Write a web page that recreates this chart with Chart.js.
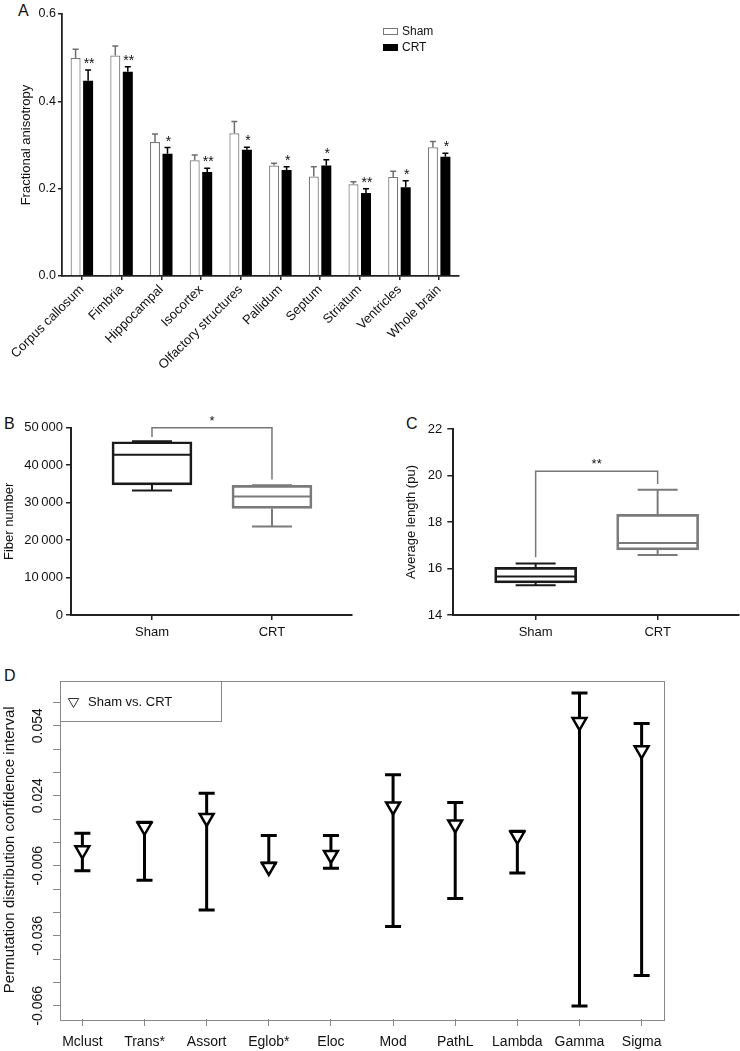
<!DOCTYPE html>
<html><head><meta charset="utf-8">
<script src="https://cdn.jsdelivr.net/npm/chart.js@4.4.1/dist/chart.umd.min.js"></script>
<style>
body{margin:0;background:#fff;width:740px;height:1051px;position:relative;overflow:hidden;font-family:"Liberation Sans",Arial,sans-serif;}
canvas{position:absolute;}
.lab{position:absolute;font-size:16px;color:#111;line-height:1;}
</style></head><body>
<div class="lab" style="left:18px;top:3px">A</div>
<div class="lab" style="left:4px;top:416px">B</div>
<div class="lab" style="left:406px;top:416px">C</div>
<div class="lab" style="left:4px;top:668px">D</div>
<script>
// ---------- Panel A data ----------
const regions = ['Corpus callosum','Fimbria','Hippocampal','Isocortex','Olfactory structures','Pallidum','Septum','Striatum','Ventricles','Whole brain'];
const shamFA  = [0.499,0.505,0.307,0.265,0.327,0.253,0.228,0.210,0.227,0.295];
const shamErr = [0.020,0.022,0.018,0.012,0.027,0.005,0.022,0.006,0.013,0.013];
const crtFA   = [0.447,0.468,0.280,0.238,0.289,0.243,0.253,0.190,0.203,0.273];
const crtErr  = [0.025,0.011,0.014,0.009,0.006,0.007,0.013,0.010,0.015,0.008];
const crtSig  = ['**','**','*','**','*','*','*','**','*','*'];
const faTicks = [0,0.2,0.4,0.6];
const seriesNames = ['Sham','CRT'];

// ---------- Panel B / C data ([min, q1, median, q3, max]) ----------
const groups = ['Sham','CRT'];
const fiberSham = [33250,34750,42750,46250,46400];
const fiberCRT  = [23650,28450,31650,34600,34650];
const fiberTicks = [0,10000,20000,30000,40000,50000];
const fiberTickLabels = ['0','10\u2009000','20\u2009000','30\u2009000','40\u2009000','50\u2009000'];
const fiberBracket = [47500,50000,36200];
const lenSham = [15.28,15.38,15.66,16.05,16.21];
const lenCRT  = [16.58,16.80,17.10,18.33,19.39];
const lenTicks = [14,16,18,20,22];
const lenBracket = [16.48,20.18,19.63];

// ---------- Panel D data ----------
const metrics   = ['Mclust','Trans*','Assort','Eglob*','Eloc','Mod','PathL','Lambda','Gamma','Sigma'];
const diffPoint = [0.0006,0.0107,0.0145,-0.0065,-0.0014,0.0194,0.0117,0.0068,0.0556,0.0435];
const ciLower   = [-0.0082,-0.0122,-0.0250,-0.0048,-0.0071,-0.0321,-0.0201,-0.0091,-0.0661,-0.0531];
const ciUpper   = [0.0079,0.0126,0.0251,0.0070,0.0070,0.0330,0.0211,0.0088,0.0680,0.0550];
const dTickValues = [0.064,0.054,0.044,0.034,0.024,0.014,0.004,-0.006,-0.016,-0.026,-0.036,-0.046,-0.056,-0.066];
const dTickLabels = ['0.054','0.024','-0.006','-0.036','-0.066'];

const FONT = '"Liberation Sans", Arial, sans-serif';
Chart.defaults.font.family = FONT;
Chart.defaults.color = '#111';
Chart.defaults.animation = false;

function makeCanvas(left, top, w, h){
  const c = document.createElement('canvas');
  c.width = w; c.height = h;
  c.style.left = left+'px'; c.style.top = top+'px';
  c.style.width = w+'px'; c.style.height = h+'px';
  document.body.appendChild(c);
  return c;
}
function seg(ctx, x1, y1, x2, y2){ ctx.moveTo(x1,y1); ctx.lineTo(x2,y2); }

// ================= Panel A =================
const pluginA = {
  id:'errA',
  afterDatasetsDraw(chart){
    const ctx = chart.ctx, y = chart.scales.y;
    const sets = [[shamFA, shamErr, '#6e6e6e'], [crtFA, crtErr, '#000']];
    sets.forEach(([vals, errs, col], di) => {
      const meta = chart.getDatasetMeta(di);
      meta.data.forEach((bar, i) => {
        const top = y.getPixelForValue(vals[i] + errs[i]);
        ctx.save();
        ctx.strokeStyle = col; ctx.lineWidth = 1.5;
        ctx.beginPath(); seg(ctx, bar.x, bar.y, bar.x, top); seg(ctx, bar.x-3, top, bar.x+3, top); ctx.stroke();
        if (di === 1) {
          ctx.fillStyle = '#111'; ctx.font = '14px ' + FONT;
          ctx.textAlign = 'center'; ctx.textBaseline = 'alphabetic';
          ctx.fillText(crtSig[i], bar.x + 1, top - 2);
        }
        ctx.restore();
      });
    });
    // legend
    ctx.save();
    ctx.strokeStyle = '#777'; ctx.lineWidth = 1;
    ctx.strokeRect(383.5, 28.5, 14, 6);
    ctx.fillStyle = '#000'; ctx.fillRect(383, 44, 15, 7);
    ctx.fillStyle = '#111'; ctx.font = '12px ' + FONT; ctx.textAlign = 'left'; ctx.textBaseline = 'middle';
    ctx.fillText(seriesNames[0], 402, 31.5);
    ctx.fillText(seriesNames[1], 402, 47.5);
    ctx.restore();
  }
};

new Chart(makeCanvas(0,0,470,380), {
  type:'bar',
  data:{ labels: regions, datasets:[
    {label:seriesNames[0], data:shamFA, backgroundColor:'#fff', borderColor:'#7a7a7a', borderWidth:1.2, borderSkipped:'start'},
    {label:seriesNames[1], data:crtFA, backgroundColor:'#000', borderColor:'#000', borderWidth:0}
  ]},
  options:{
    responsive:false, animation:false, devicePixelRatio:1,
    layout:{padding:{left:0,right:11,top:14,bottom:0}},
    datasets:{bar:{categoryPercentage:0.63, barPercentage:0.8}},
    plugins:{legend:{display:false}, tooltip:{enabled:false}},
    scales:{
      x:{ offset:true,
          grid:{offset:false, drawOnChartArea:false, tickLength:4, color:'#222', lineWidth:1.5},
          border:{color:'#222', width:1.8},
          ticks:{minRotation:45, maxRotation:45, autoSkip:false, padding:2, font:{size:13}, color:'#111'},
          afterFit:s=>{ s.height = 104; } },
      y:{ min:0, max:0.6,
          afterBuildTicks:s=>{ s.ticks = faTicks.map(v=>({value:v})); },
          ticks:{callback:v=>Number(v).toFixed(1), padding:2, font:{size:12.5}, color:'#111'},
          grid:{drawOnChartArea:false, tickLength:4, color:'#222', lineWidth:1.5},
          border:{color:'#222', width:1.8},
          title:{display:true, text:'Fractional anisotropy', font:{size:13}, color:'#111', padding:{top:19,bottom:0}},
          afterFit:s=>{ s.width = 62; } }
    }
  },
  plugins:[pluginA]
});

// ================= Panels B & C (box plots) =================
function boxChart(canvas, stats, colors, boxW, cfg){
  const half = boxW/2;
  const plugin = {
    id:'boxes',
    afterDatasetsDraw(chart){
      const ctx = chart.ctx, xs = chart.scales.x, ys = chart.scales.y;
      stats.forEach((s, i) => {
        const cx = xs.getPixelForValue(i);
        const [mn, q1, md, q3, mx] = s.map(v => ys.getPixelForValue(v));
        ctx.save();
        ctx.strokeStyle = colors[i]; ctx.lineWidth = 2;
        ctx.beginPath();
        seg(ctx, cx-half+1, md, cx+half-1, md);
        seg(ctx, cx, q3, cx, mx); seg(ctx, cx-20, mx, cx+20, mx);
        seg(ctx, cx, q1, cx, mn); seg(ctx, cx-20, mn, cx+20, mn);
        ctx.stroke();
        ctx.restore();
      });
      // significance bracket
      const b = cfg.bracket.map(v => ys.getPixelForValue(v));
      const x0 = xs.getPixelForValue(0), x1 = xs.getPixelForValue(1);
      ctx.save();
      ctx.strokeStyle = '#777'; ctx.lineWidth = 1.5;
      ctx.beginPath(); ctx.moveTo(x0, b[0]); ctx.lineTo(x0, b[1]); ctx.lineTo(x1, b[1]); ctx.lineTo(x1, b[2]); ctx.stroke();
      ctx.fillStyle = '#111'; ctx.font = '13px ' + FONT; ctx.textAlign = 'center'; ctx.textBaseline = 'alphabetic';
      ctx.fillText(cfg.sig, (x0+x1)/2, b[1] - 3);
      ctx.restore();
    }
  };
  return new Chart(canvas, {
    type:'bar',
    data:{ datasets:[{
      data: stats.map((s,i)=>({x:i, y:[s[1], s[3]]})),
      backgroundColor:'rgba(255,255,255,0)', borderColor:colors, borderWidth:2, borderSkipped:false,
      barThickness: boxW
    }]},
    options:{
      responsive:false, animation:false, devicePixelRatio:1,
      layout:{padding:cfg.padding},
      plugins:{legend:{display:false}, tooltip:{enabled:false}},
      scales:{
        x:{ type:'linear', offset:false, min:-0.675, max:1.667,
            afterBuildTicks:s=>{ s.ticks = groups.map((g,i)=>({value:i})); },
            ticks:{callback:v=>groups[Math.round(v)], autoSkip:false, maxRotation:0, padding:5, font:{size:13}, color:'#111'},
            grid:{offset:false, drawOnChartArea:false, tickLength:5, color:'#222', lineWidth:1.5},
            border:{color:'#222', width:2},
            afterFit:s=>{ s.height = cfg.xh; } },
        y:{ min:cfg.min, max:cfg.max,
            afterBuildTicks:s=>{ s.ticks = cfg.ticks.map(v=>({value:v})); },
            ticks:{callback:cfg.tickFmt, autoSkip:false, padding:cfg.tpad, font:{size:13}, color:'#111'},
            grid:{drawOnChartArea:false, tickLength:cfg.tl, color:'#222', lineWidth:1.5},
            border:{color:'#222', width:2},
            title:{display:true, text:cfg.title, font:{size:13}, color:'#111', padding:{top:cfg.titlePad,bottom:0}},
            afterFit:s=>{ s.width = cfg.yw; } }
      }
    },
    plugins:[plugin]
  });
}

boxChart(makeCanvas(0,380,370,290), [fiberSham, fiberCRT], ['#1a1a1a','#7a7a7a'], 80, {
  padding:{left:0,right:18,top:47.7,bottom:0}, xh:55, yw:71,
  min:0, max:50000, ticks:fiberTicks, tickFmt:(v)=>fiberTickLabels[fiberTicks.indexOf(v)],
  tpad:3, tl:5, title:'Fiber number', titlePad:2, bracket:fiberBracket, sig:'*'
});

boxChart(makeCanvas(370,380,370,290), [lenSham, lenCRT], ['#1a1a1a','#7a7a7a'], 82, {
  padding:{left:0,right:1,top:49,bottom:0}, xh:55, yw:83.3,
  min:14, max:22, ticks:lenTicks, tickFmt:(v)=>String(v),
  tpad:5, tl:6, title:'Average length (pu)', titlePad:34, bracket:lenBracket, sig:'**'
});

// ================= Panel D =================
const pluginD = {
  id:'ciD',
  beforeDatasetsDraw(chart){
    const ctx = chart.ctx, xs = chart.scales.x, ys = chart.scales.y, a = chart.chartArea;
    ctx.save();
    ctx.strokeStyle = '#888'; ctx.lineWidth = 1;
    ctx.strokeRect(Math.round(a.left)+0.5, Math.round(a.top)+0.5, Math.round(a.right-a.left), Math.round(a.bottom-a.top));
    ctx.strokeStyle = '#000'; ctx.lineWidth = 3; ctx.lineCap = 'butt';
    metrics.forEach((m, i) => {
      const x = xs.getPixelForValue(i+1);
      const lo = ys.getPixelForValue(ciLower[i]), hi = ys.getPixelForValue(ciUpper[i]);
      ctx.beginPath();
      seg(ctx, x, lo, x, hi);
      seg(ctx, x-8, lo, x+8, lo);
      seg(ctx, x-8, hi, x+8, hi);
      ctx.stroke();
    });
    ctx.restore();
  },
  afterDatasetsDraw(chart){
    const ctx = chart.ctx, a = chart.chartArea;
    ctx.save();
    ctx.fillStyle = '#fff'; ctx.strokeStyle = '#888'; ctx.lineWidth = 1;
    const L = Math.round(a.left)+0.5, T = Math.round(a.top)+0.5;
    ctx.fillRect(L, T, 161, 40); ctx.strokeRect(L, T, 161, 40);
    // legend symbol
    const cx = a.left + 13.5, cy = a.top + 21, r = 6;
    ctx.strokeStyle = '#333'; ctx.lineWidth = 1;
    ctx.beginPath();
    ctx.moveTo(cx, cy + r);
    ctx.lineTo(cx - r*Math.sin(Math.PI/3), cy - r/2);
    ctx.lineTo(cx + r*Math.sin(Math.PI/3), cy - r/2);
    ctx.closePath(); ctx.stroke();
    ctx.fillStyle = '#111'; ctx.font = '13px ' + FONT; ctx.textAlign = 'left'; ctx.textBaseline = 'middle';
    ctx.fillText(chart.data.datasets[0].label, a.left + 28, cy + 0.5);
    ctx.restore();
  }
};

new Chart(makeCanvas(0,670,740,381), {
  type:'scatter',
  data:{ datasets:[{
    label:'Sham vs. CRT',
    data: metrics.map((m,i)=>({x:i+1, y:diffPoint[i]})),
    pointStyle:'triangle', rotation:180, radius:8, borderWidth:2.5,
    borderColor:'#000', backgroundColor:'#fff'
  }]},
  options:{
    responsive:false, animation:false, devicePixelRatio:1,
    layout:{padding:{left:0,right:76,top:7.7,bottom:0}},
    plugins:{legend:{display:false}, tooltip:{enabled:false}},
    scales:{
      x:{ type:'linear', min:0.64, max:10.36,
          afterBuildTicks:s=>{ s.ticks = metrics.map((m,i)=>({value:i+1})); },
          ticks:{callback:v=>metrics[Math.round(v)-1], autoSkip:false, maxRotation:0, padding:8, font:{size:14}, color:'#111'},
          grid:{drawOnChartArea:false, tickLength:7, color:'#888', lineWidth:1},
          border:{display:false},
          afterFit:s=>{ s.height = 32; } },
      y:{ min:-0.0717, max:0.0734,
          afterBuildTicks:s=>{ s.ticks = dTickValues.map(v=>({value:v})); },
          ticks:{callback:v=>{ const t = Number(v).toFixed(3); return dTickLabels.includes(t) ? t : ''; },
                 autoSkip:false, minRotation:90, maxRotation:90, crossAlign:'center', padding:-5, font:{size:14}, color:'#111'},
          grid:{drawOnChartArea:false, tickLength:7, color:'#888', lineWidth:1},
          border:{display:false},
          title:{display:true, text:'Permutation distribution confidence interval', font:{size:15}, color:'#111', padding:{top:1,bottom:0}},
          afterFit:s=>{ s.width = 60; } }
    }
  },
  plugins:[pluginD]
});
</script>
</body></html>
